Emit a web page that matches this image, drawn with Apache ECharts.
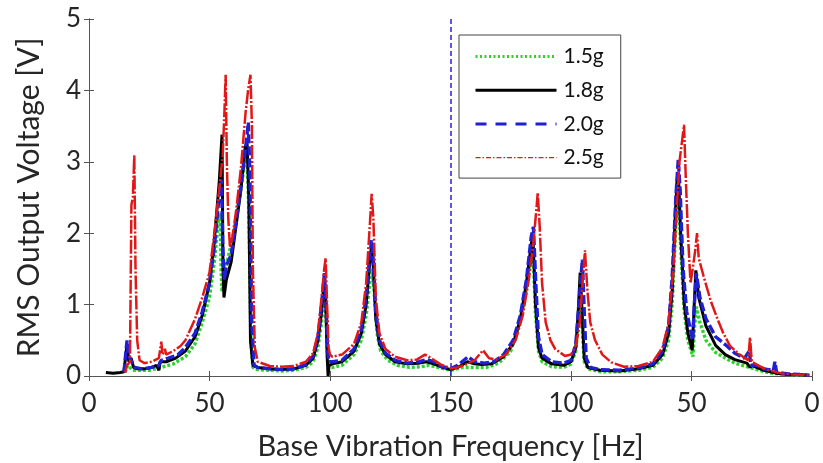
<!DOCTYPE html>
<html>
<head>
<meta charset="utf-8">
<script src="https://cdn.jsdelivr.net/npm/echarts@6/dist/echarts.min.js"></script>
<style>
  html, body { margin: 0; padding: 0; background: #fff; }
  #chart { width: 823px; height: 463px; }
</style>
</head>
<body>
<div id="chart"></div>
<script>
// sweep position on the x axis: 0 -> 150 is the up-sweep, 150 -> 300 is the down-sweep (150 Hz back to 0 Hz)
const xTickLabels = ['0', '50', '100', '150', '100', '50', '0']
const sweepTurn = 150

const seriesNames = ['1.5g', '1.8g', '2.0g', '2.5g']

// 1.5g
const acc15 = [
  [15, 0.05], [16, 0.15], [17, 0.12], [18, 0.08], [20, 0.08], [25, 0.08], [30, 0.12], [35, 0.17],
  [40, 0.27], [44, 0.45], [47, 0.75], [50, 1.1], [52, 1.6], [53.5, 2.1], [54.4, 2.28], [54.8, 1.5],
  [55.2, 1.18], [56, 1.4], [58, 1.7], [60, 2.0], [62, 2.4], [64, 2.85], [65.6, 3.14], [66.4, 2.2],
  [67.2, 0.5], [68, 0.12], [70, 0.09], [75, 0.08], [80, 0.07], [85, 0.08], [90, 0.12], [93, 0.2],
  [95, 0.4], [96.5, 0.75], [97.6, 1.15], [98.4, 0.8], [99, 0.2], [99.5, 0.12], [101, 0.12], [105, 0.15],
  [110, 0.3], [113, 0.5], [115, 0.85], [116.5, 1.3], [117.5, 1.5], [118.3, 1.2], [119.5, 0.6], [121, 0.35],
  [124, 0.22], [128, 0.15], [133, 0.12], [138, 0.13], [141, 0.15], [145, 0.12], [150, 0.08],
  [155, 0.12], [160, 0.12], [165, 0.12], [170, 0.18], [175, 0.35], [178, 0.65], [181, 1.1], [183, 1.6],
  [184.2, 1.8], [185.2, 0.9], [186.5, 0.35], [188, 0.2], [192, 0.13], [197, 0.12], [200, 0.17], [202, 0.35],
  [203, 0.75], [203.8, 1.25], [204.6, 0.7], [205.5, 0.2], [207, 0.1], [212, 0.06], [220, 0.06], [228, 0.08],
  [234, 0.12], [238, 0.25], [240.5, 0.5], [242, 1.0], [243.2, 1.9], [244, 2.4], [244.6, 2.5], [245.5, 1.8],
  [247, 0.9], [248.5, 0.5], [250.6, 0.27], [251.3, 0.7], [252, 0.97], [253.5, 0.75], [256, 0.5], [260, 0.33],
  [264, 0.25], [268, 0.18], [273, 0.13], [278, 0.08], [283, 0.04], [290, 0.02], [298, 0.01]
]

// 1.8g
const acc18 = [
  [7, 0.05], [10, 0.04], [13, 0.05], [14.5, 0.06], [15.3, 0.3], [15.8, 0.45], [16.5, 0.2], [17.5, 0.25],
  [18.5, 0.12], [20, 0.1], [23, 0.1], [26, 0.12], [28, 0.15], [29, 0.08], [29.5, 0.2], [32, 0.2],
  [36, 0.25], [40, 0.35], [44, 0.55], [47, 0.85], [50, 1.3], [52, 1.9], [54, 2.7], [55.2, 3.38],
  [55.6, 1.5], [56, 1.1], [57, 1.35], [59, 1.6], [61, 2.1], [63, 2.6], [64.8, 3.2], [65.6, 3.26],
  [66.3, 2.5], [67, 0.5], [68, 0.15], [70, 0.12], [75, 0.1], [80, 0.09], [85, 0.1], [90, 0.15],
  [93, 0.25], [95, 0.5], [96.5, 0.9], [97.5, 1.3], [98.2, 1.1], [98.8, 0.3], [99.2, 0.0], [99.6, 0.15],
  [101, 0.17], [105, 0.2], [110, 0.35], [113, 0.6], [115, 1.0], [116.5, 1.6], [117.3, 1.85], [118, 1.5],
  [119, 0.8], [120.5, 0.45], [123, 0.3], [127, 0.2], [132, 0.17], [137, 0.18], [140, 0.2], [143, 0.17],
  [146, 0.13], [150, 0.09],
  [153, 0.12], [157, 0.2], [160, 0.17], [163, 0.16], [167, 0.17], [172, 0.27], [176, 0.45], [179, 0.8],
  [181.5, 1.3], [183.5, 1.85], [184.2, 1.95], [185.3, 1.0], [186.5, 0.4], [188, 0.25], [192, 0.17], [197, 0.15],
  [200, 0.2], [202, 0.4], [203, 0.9], [203.8, 1.45], [204.6, 0.9], [205.5, 0.25], [207, 0.12], [212, 0.08],
  [220, 0.07], [228, 0.1], [234, 0.15], [238, 0.3], [240.5, 0.6], [242, 1.2], [243.2, 2.2], [244, 2.75],
  [244.6, 2.8], [245.5, 2.0], [247, 1.0], [248.5, 0.6], [250.3, 0.36], [251, 0.9], [251.8, 1.48], [253, 1.1],
  [256, 0.7], [260, 0.43], [264, 0.3], [268, 0.23], [273, 0.18], [274.3, 0.12], [275, 0.15], [280, 0.08],
  [285, 0.04], [290, 0.02], [295, 0.02], [298, 0.01]
]

// 2.0g
const acc20 = [
  [14.5, 0.05], [15.2, 0.3], [15.8, 0.5], [16.3, 0.3], [17, 0.25], [18, 0.18], [19, 0.12], [22, 0.1],
  [26, 0.12], [29, 0.15], [30, 0.22], [33, 0.25], [37, 0.3], [40, 0.4], [44, 0.6], [47, 0.9],
  [50, 1.3], [52, 1.8], [53.8, 2.45], [55, 2.75], [55.5, 1.8], [56.2, 1.35], [57, 1.55], [59, 1.7],
  [61, 2.15], [63, 2.65], [65, 3.2], [66.1, 3.55], [66.8, 2.8], [67.5, 0.8], [68.5, 0.15], [70, 0.12],
  [75, 0.1], [80, 0.09], [85, 0.1], [90, 0.16], [93, 0.28], [95, 0.55], [96.5, 1.0], [97.7, 1.44],
  [98.4, 1.0], [99, 0.35], [99.6, 0.2], [101, 0.2], [105, 0.22], [110, 0.38], [113, 0.65], [115, 1.1],
  [116.5, 1.7], [117.3, 1.9], [118, 1.6], [119, 0.9], [120.5, 0.5], [123, 0.32], [127, 0.22], [132, 0.18],
  [137, 0.2], [140, 0.23], [143, 0.2], [146, 0.14], [150, 0.1],
  [153, 0.15], [157.3, 0.27], [160, 0.2], [164, 0.18], [168, 0.2], [172, 0.3], [176, 0.5], [179, 0.85],
  [181.5, 1.35], [183.5, 1.95], [184.4, 2.09], [185.4, 1.3], [186.5, 0.55], [188, 0.3], [192, 0.2], [197, 0.18],
  [200, 0.22], [202, 0.45], [203.5, 1.1], [204.7, 1.63], [205.5, 0.9], [206.3, 0.25], [208, 0.12], [212, 0.09],
  [220, 0.08], [228, 0.11], [234, 0.17], [238, 0.35], [240.5, 0.7], [242, 1.4], [243.5, 2.5], [244.5, 3.03],
  [245.3, 2.6], [246.5, 1.5], [248, 0.9], [250.5, 0.5], [251.2, 1.0], [252, 1.44], [253.5, 1.1], [256, 0.8],
  [260, 0.55], [264, 0.44], [268, 0.32], [272, 0.25], [274, 0.35], [274.6, 0.15], [277, 0.15], [280, 0.1],
  [284, 0.08], [284.6, 0.2], [285.3, 0.05], [290, 0.03], [295, 0.02], [299, 0.01]
]

// 2.5g
const acc25 = [
  [15, 0.05], [15.8, 0.15], [17, 0.2], [17.6, 2.4], [18.2, 2.5], [18.8, 3.1], [19.3, 1.5], [20, 0.5],
  [21, 0.22], [23, 0.18], [26, 0.2], [29, 0.25], [30, 0.48], [30.5, 0.3], [31.5, 0.38], [32, 0.3],
  [35, 0.35], [38, 0.42], [40, 0.5], [44, 0.8], [47, 1.1], [50, 1.45], [52, 2.0], [54, 2.6],
  [55.5, 3.1], [56.2, 3.7], [56.7, 4.22], [57.2, 3.0], [57.8, 2.2], [58.5, 1.8], [59.5, 1.95], [61, 2.3],
  [63, 2.9], [65, 3.7], [66, 4.0], [67, 4.22], [67.6, 3.5], [68, 1.5], [68.8, 0.4], [70, 0.2],
  [75, 0.14], [80, 0.13], [85, 0.14], [90, 0.2], [93, 0.32], [95, 0.6], [96.5, 1.1], [97.6, 1.5],
  [98.2, 1.65], [98.8, 1.0], [99.4, 0.4], [100, 0.3], [101, 0.27], [105, 0.3], [110, 0.45], [113, 0.75],
  [115, 1.3], [116.5, 2.1], [117.3, 2.55], [118, 2.2], [119, 1.1], [120.5, 0.6], [123, 0.38], [127, 0.27],
  [132, 0.22], [136, 0.23], [139.4, 0.3], [142, 0.25], [146, 0.16], [150, 0.11],
  [153, 0.12], [157, 0.17], [160, 0.22], [163.5, 0.36], [166, 0.25], [169, 0.23], [173, 0.3], [177, 0.5],
  [180, 0.85], [182.5, 1.35], [184.5, 1.9], [185.8, 2.4], [186.2, 2.57], [187, 2.1], [188, 1.3], [189.5, 0.75],
  [191.5, 0.5], [193.4, 0.38], [197.5, 0.28], [200, 0.3], [202, 0.42], [203.5, 0.7], [204.8, 1.3], [205.8, 1.76],
  [206.8, 1.2], [208, 0.75], [210, 0.5], [213, 0.3], [216.8, 0.19], [222, 0.13], [228, 0.14], [234, 0.2],
  [238, 0.4], [240.5, 0.75], [242.5, 1.5], [244, 2.4], [245, 3.0], [246.3, 3.35], [246.9, 3.52], [247.6, 2.8],
  [248.5, 2.0], [249.6, 1.3], [250.5, 1.5], [251.5, 1.75], [252.3, 2.0], [253, 1.65], [255, 1.4], [258, 1.05],
  [261, 0.78], [263.2, 0.6], [266, 0.42], [270, 0.3], [273.5, 0.22], [274.3, 0.54], [275, 0.2], [278, 0.14],
  [282, 0.08], [287, 0.04], [292, 0.02], [299, 0.01]
]

const fontFamily = 'Lato, "Open Sans", sans-serif'
const axisColor = '#555'
const textColor = '#262626'

const chart = echarts.init(document.getElementById('chart'), null, { renderer: 'canvas' })

const boxAxis = {
  axisLine: { show: true, lineStyle: { color: axisColor, width: 1 } },
  axisTick: { show: true, inside: true, length: 5, lineStyle: { color: axisColor } },
  splitLine: { show: false }
}

// legend shows only the line sample, no marker
const noMarker = { color: 'rgba(0,0,0,0)', borderWidth: 0, opacity: 0 }

chart.setOption({
  animation: false,
  backgroundColor: '#fff',
  grid: { left: 89, right: 11, top: 19, bottom: 87, outerBoundsMode: 'none', containLabel: false },
  legend: {
    orient: 'vertical',
    left: 459,
    top: 35,
    padding: [11, 17, 10, 15],
    itemWidth: 81,
    itemHeight: 20,
    itemGap: 12.7,
    borderColor: '#444',
    borderWidth: 1,
    backgroundColor: '#fff',
    itemStyle: noMarker,
    textStyle: { fontFamily, fontSize: 21, color: '#111', lineHeight: 20, padding: [0, 0, 0, 2] },
    data: [
      { name: '1.5g', itemStyle: noMarker, lineStyle: { color: '#2fd12f', width: 3, type: [2, 2.5] } },
      { name: '1.8g', itemStyle: noMarker, lineStyle: { color: '#000', width: 3, type: 'solid' } },
      { name: '2.0g', itemStyle: noMarker, lineStyle: { color: '#1f1fd6', width: 3, type: [11, 9] } },
      { name: '2.5g', itemStyle: noMarker, lineStyle: { color: '#d42020', width: 1.2, type: [5, 2, 1.5, 2] } }
    ]
  },
  xAxis: [
    {
      type: 'value',
      min: 0,
      max: 300,
      interval: 50,
      ...boxAxis,
      axisLabel: {
        fontFamily,
        fontSize: 26,
        color: textColor,
        margin: 15,
        formatter: v => xTickLabels[Math.round(v / 50)]
      },
      name: 'Base Vibration Frequency [Hz]',
      nameLocation: 'middle',
      nameGap: 56,
      nameTextStyle: { fontFamily, fontSize: 29, color: textColor }
    },
    {
      type: 'value',
      position: 'top',
      min: 0,
      max: 300,
      interval: 50,
      ...boxAxis,
      axisLabel: { show: false }
    }
  ],
  yAxis: [
    {
      type: 'value',
      min: 0,
      max: 5,
      interval: 1,
      ...boxAxis,
      axisLabel: { fontFamily, fontSize: 26, color: textColor, margin: 8 },
      name: 'RMS Output Voltage [V]',
      nameLocation: 'middle',
      nameGap: 45,
      nameTextStyle: { fontFamily, fontSize: 30, color: textColor }
    },
    {
      type: 'value',
      position: 'right',
      min: 0,
      max: 5,
      interval: 1,
      ...boxAxis,
      axisLabel: { show: false }
    }
  ],
  series: [
    {
      name: seriesNames[0],
      type: 'line',
      data: acc15,
      symbol: 'none',
      lineStyle: { color: '#2fd12f', width: 3.4, type: [3, 2] },
      itemStyle: { color: '#2fd12f' },
      z: 2
    },
    {
      name: seriesNames[1],
      type: 'line',
      data: acc18,
      symbol: 'none',
      lineStyle: { color: '#000', width: 3 },
      itemStyle: { color: '#000' },
      z: 3
    },
    {
      name: seriesNames[2],
      type: 'line',
      data: acc20,
      symbol: 'none',
      lineStyle: { color: '#1f1fd6', width: 3.4, type: [9, 3] },
      itemStyle: { color: '#1f1fd6' },
      z: 4
    },
    {
      name: seriesNames[3],
      type: 'line',
      data: acc25,
      symbol: 'none',
      lineStyle: { color: '#e01818', width: 2.5, type: [14, 2, 2, 2] },
      itemStyle: { color: '#e01818' },
      z: 5,
      markLine: {
        silent: true,
        symbol: 'none',
        label: { show: false },
        lineStyle: { color: '#2424d8', width: 1.5, type: [5, 3] },
        data: [{ xAxis: sweepTurn }]
      }
    }
  ]
})
</script>
</body>
</html>
